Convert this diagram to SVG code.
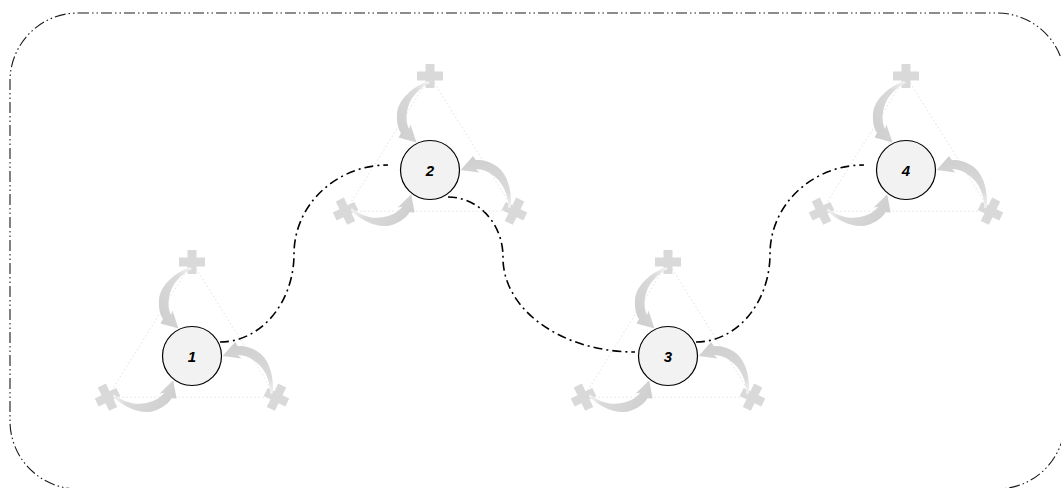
<svg xmlns="http://www.w3.org/2000/svg" xmlns:xlink="http://www.w3.org/1999/xlink" width="1061" height="488" viewBox="0 0 1061 488">
  <style>
    .frame { fill: none; stroke: #1a1a1a; stroke-width: 1.1; stroke-dasharray: 11 3 1.5 3 1.5 3; }
    .link { fill: none; stroke: #000; stroke-width: 1.6; stroke-dasharray: 9 4 2 4; }
    .tri { fill: none; stroke: #e2e2e2; stroke-width: 1; stroke-dasharray: 1.5 2.5; }
    .cross { fill: #d9d9d9; }
    .arrow { fill: url(#arrowFill); }
    .hub { fill: #f2f2f2; stroke: #000; stroke-width: 1.2; }
    .label { font-family: "Liberation Sans", Arial, sans-serif; font-size: 15px; font-weight: bold; font-style: italic; fill: #000; text-anchor: middle; }
  </style>
  <defs>
    <linearGradient id="arrowFill" x1="1" y1="0" x2="0.2" y2="1">
      <stop offset="0" stop-color="#f6f6f6"/>
      <stop offset="0.3" stop-color="#dadada"/>
      <stop offset="1" stop-color="#cfcfcf"/>
    </linearGradient>
    <!-- one spoke: a plus mark at the vertex and a curved block arrow toward the hub -->
    <g id="spoke">
      <path class="cross" d="M-4.5,-106 h9 v7.5 h8.5 v9 h-8.5 v7.5 h-9 v-7.5 h-8.5 v-9 h8.5 Z"/>
      <path class="arrow" d="M-2,-89 C-17,-83 -32,-71 -33,-56 C-33.5,-48 -32,-41 -29,-37 L-31.5,-32.5 L-13.5,-27.5 L-19.5,-45.5 L-21,-41 C-23.5,-46 -24,-52 -23,-58 C-21,-72 -11,-82 0,-87 Z"/>
    </g>
    <!-- dotted triangle with three spokes around a hub at the origin -->
    <g id="cycle">
      <polygon class="tri" points="0,-94 84.5,41.2 -84.5,41.2"/>
      <use xlink:href="#spoke"/>
      <use xlink:href="#spoke" transform="rotate(116)"/>
      <use xlink:href="#spoke" transform="rotate(244)"/>
    </g>
  </defs>

  <rect class="frame" x="10" y="13" width="1055" height="476" rx="68" ry="68"/>

  <g id="connectors">
    <path class="link" d="M220,342 A74,88 0 0 0 294,254 A94,89 0 0 1 388,165"/>
    <path class="link" d="M448,197 A55,60 0 0 1 503,258 A132,94 0 0 0 635,352"/>
    <path class="link" d="M696,342 A74,88 0 0 0 770,254 A94,89 0 0 1 864,165"/>
  </g>

  <g id="node-1" transform="translate(192,356)">
    <use xlink:href="#cycle"/>
    <circle class="hub" r="29.5"/>
    <text class="label" y="5.5">1</text>
  </g>
  <g id="node-2" transform="translate(430,170)">
    <use xlink:href="#cycle"/>
    <circle class="hub" r="29.5"/>
    <text class="label" y="5.5">2</text>
  </g>
  <g id="node-3" transform="translate(668,356)">
    <use xlink:href="#cycle"/>
    <circle class="hub" r="29.5"/>
    <text class="label" y="5.5">3</text>
  </g>
  <g id="node-4" transform="translate(906,170)">
    <use xlink:href="#cycle"/>
    <circle class="hub" r="29.5"/>
    <text class="label" y="5.5">4</text>
  </g>
</svg>
